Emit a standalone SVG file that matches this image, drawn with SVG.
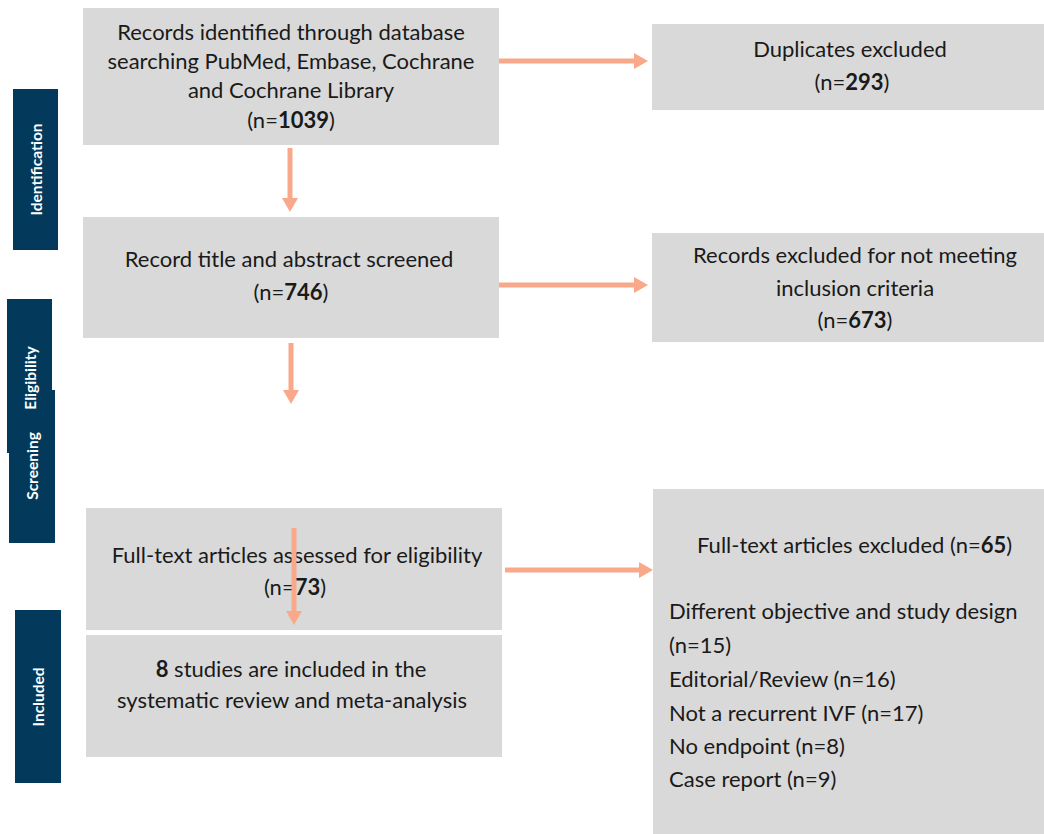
<svg xmlns="http://www.w3.org/2000/svg" width="1044" height="834" viewBox="0 0 1044 834">
<style>
.box{fill:#d9d9d9}
.side{fill:#033a5c}
.t{font-family:Lato,"Liberation Sans",sans-serif;font-size:22px;fill:#1a1a1a}
.c{text-anchor:middle}
.b{font-weight:bold}
.s{font-family:Lato,"Liberation Sans",sans-serif;font-size:15.5px;font-weight:bold;fill:#ffffff;text-anchor:middle;dominant-baseline:central}
.arr{stroke:#f9a98a;stroke-width:5;fill:none;marker-end:url(#ah)}
</style>
<defs>
<marker id="ah" viewBox="0 0 14 16" refX="0" refY="8" markerWidth="14" markerHeight="16" markerUnits="userSpaceOnUse" orient="auto">
<path d="M0,0 L14,8 L0,16 z" fill="#f9a98a"/>
</marker>
</defs>
<rect width="1044" height="834" fill="#ffffff"/>
<g id="stages">
<g id="stage-identification">
<rect class="side" x="13" y="89" width="45" height="161"/>
<text class="s" transform="translate(35.5,169.5) rotate(-90)">Identification</text>
</g>
<g id="stage-eligibility">
<rect class="side" x="7" y="299" width="45" height="154"/>
</g>
<g id="stage-screening">
<rect class="side" x="9" y="390" width="46" height="153"/>
<text class="s" transform="translate(32,466) rotate(-90)">Screening</text>
</g>
<text class="s" transform="translate(29.5,378) rotate(-90)">Eligibility</text>
<g id="stage-included">
<rect class="side" x="15" y="610" width="46" height="173"/>
<text class="s" transform="translate(38,697) rotate(-90)">Included</text>
</g>
</g>
<g id="identified">
<rect class="box" x="83" y="8" width="416" height="137"/>
<text class="t c" x="291" y="40">Records identified through database</text>
<text class="t c" x="291" y="69">searching PubMed, Embase, Cochrane</text>
<text class="t c" x="291" y="98">and Cochrane Library</text>
<text class="t c" x="291" y="128">(n=<tspan class="b">1039</tspan>)</text>
</g>
<g id="duplicates">
<rect class="box" x="652" y="24" width="392" height="86"/>
<text class="t c" x="850" y="57">Duplicates excluded</text>
<text class="t c" x="852" y="90">(n=<tspan class="b">293</tspan>)</text>
</g>
<g id="screened">
<rect class="box" x="83" y="217" width="416" height="121"/>
<text class="t c" x="289" y="267">Record title and abstract screened</text>
<text class="t c" x="291" y="300">(n=<tspan class="b">746</tspan>)</text>
</g>
<g id="excluded-criteria">
<rect class="box" x="652" y="233" width="392" height="109"/>
<text class="t c" x="855" y="263">Records excluded for not meeting</text>
<text class="t c" x="855" y="296">inclusion criteria</text>
<text class="t c" x="855" y="328">(n=<tspan class="b">673</tspan>)</text>
</g>
<g id="fulltext">
<rect class="box" x="86" y="508" width="416" height="122"/>
<text class="t c" x="297" y="563">Full-text articles assessed for eligibility</text>
<text class="t c" x="295" y="595">(n=<tspan class="b">73</tspan>)</text>
</g>
<g id="included">
<rect class="box" x="86" y="635" width="416" height="122"/>
<text class="t c" x="291" y="677"><tspan class="b">8</tspan> studies are included in the</text>
<text class="t c" x="292" y="708">systematic review and meta-analysis</text>
</g>
<g id="fulltext-excluded">
<rect class="box" x="653" y="489" width="391" height="345"/>
<text class="t" x="697" y="553">Full-text articles excluded  (n=<tspan class="b">65</tspan>)</text>
<text class="t" x="669" y="619">Different objective and study design</text>
<text class="t" x="669" y="653">(n=15)</text>
<text class="t" x="669" y="687">Editorial/Review (n=16)</text>
<text class="t" x="669" y="721">Not a recurrent IVF (n=17)</text>
<text class="t" x="669" y="754">No endpoint (n=8)</text>
<text class="t" x="669" y="787">Case report (n=9)</text>
</g>
<g id="connectors">
<line class="arr" x1="499" y1="61" x2="634" y2="61"/>
<line class="arr" x1="499" y1="285" x2="634" y2="285"/>
<line class="arr" x1="505" y1="570" x2="639" y2="570"/>
<line class="arr" x1="290" y1="148" x2="290" y2="198"/>
<line class="arr" x1="291" y1="343" x2="291" y2="390"/>
<line class="arr" x1="294" y1="528" x2="294" y2="611"/>
</g>
</svg>
